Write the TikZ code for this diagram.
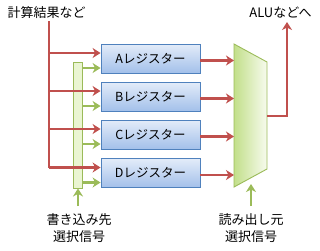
\documentclass[tikz,border=0pt]{standalone}
\usepackage{fontspec}
\setmainfont{Noto Sans CJK JP}
\usetikzlibrary{arrows.meta,calc}
\definecolor{myred}{HTML}{C0504D}
\definecolor{mygreen}{HTML}{9BBB59}
\definecolor{myblue}{HTML}{4F81BD}
\definecolor{regtop}{HTML}{E3ECF9}
\definecolor{regbot}{HTML}{A3C0EA}
\definecolor{muxl}{HTML}{C2DF8A}
\definecolor{muxr}{HTML}{F7FBEE}
\definecolor{barfill}{HTML}{EAF5D2}
\tikzset{
  regbox/.style={draw=myblue, line width=0.9pt, top color=regtop, bottom color=regbot,
    minimum width=99pt, minimum height=29pt, inner sep=0pt,
    font=\fontsize{12.5}{14}\selectfont},
  lbl/.style={font=\fontsize{13}{17}\selectfont, inner sep=0pt, align=center},
  redline/.style={draw=myred, line width=2.9pt},
  redarrow/.style={redline, -{Stealth[length=8pt,width=10pt,inset=2.5pt]}},
  greenarrow/.style={draw=mygreen, line width=2.9pt, -{Stealth[length=8pt,width=10pt,inset=2.5pt]}},
}
\begin{document}
\begin{tikzpicture}[x=1pt,y=-1pt]
\useasboundingbox (0,0) rectangle (320,250);
% labels
\node[lbl] (calc) at (46.5,13) {計算結果など};
\node[lbl] (alu) at (280.5,13) {ALUなどへ};
\node[lbl] (wsel) at (79,228.5) {書き込み先\\選択信号};
\node[lbl] (rsel) at (251,228.5) {読み出し元\\選択信号};
% registers
\node[regbox] (A) at (150.5,58.5) {Aレジスター};
\node[regbox] (B) at (150.5,96.5) {Bレジスター};
\node[regbox] (C) at (150.5,134.5) {Cレジスター};
\node[regbox] (D) at (150.5,173) {Dレジスター};
% write select bar
\node[draw=mygreen, line width=0.9pt, fill=barfill, minimum width=9pt, minimum height=126pt, inner sep=0pt] (bar) at (77.5,125) {};
% multiplexer
\coordinate (m1) at (234,44);
\coordinate (m2) at (267,62);
\coordinate (m3) at (267,169);
\coordinate (m4) at (234,187);
\shade[left color=muxl, right color=muxr] (m1) -- (m2) -- (m3) -- (m4) -- cycle;
\draw[mygreen, line width=0.9pt] (m1) -- (m2) -- (m3) -- (m4) -- cycle;
% bus
\coordinate (bustop) at (49,21);
\coordinate (busbot) at (49,167.5);
\draw[redline] (bustop) -- (busbot);
\foreach \r in {A,B,C,D}{
  \draw[redarrow] (bustop |- {$(\r.west)+(0,-5.5)$}) -- ($(\r.west)+(0,-5.5)$);
  \draw[greenarrow] (bar.east |- {$(\r.west)+(0,9.5)$}) -- ($(\r.west)+(0,9.5)$);
  \draw[redarrow] ($(\r.east)+(0,2)$) -- (m1 |- {$(\r.east)+(0,2)$});
}
% output
\coordinate (outR) at (267,116);
\coordinate (outC) at (287,116);
\coordinate (outT) at (287,22);
\draw[redarrow] (outR) -- (outC) -- (outT);
% select arrows
\coordinate (wtail) at (78,206);
\coordinate (rtail) at (251,206);
\draw[greenarrow] (wtail) -- (bar.south -| wtail);
\draw[greenarrow] (rtail) -- (251,184);
\end{tikzpicture}
\end{document}
